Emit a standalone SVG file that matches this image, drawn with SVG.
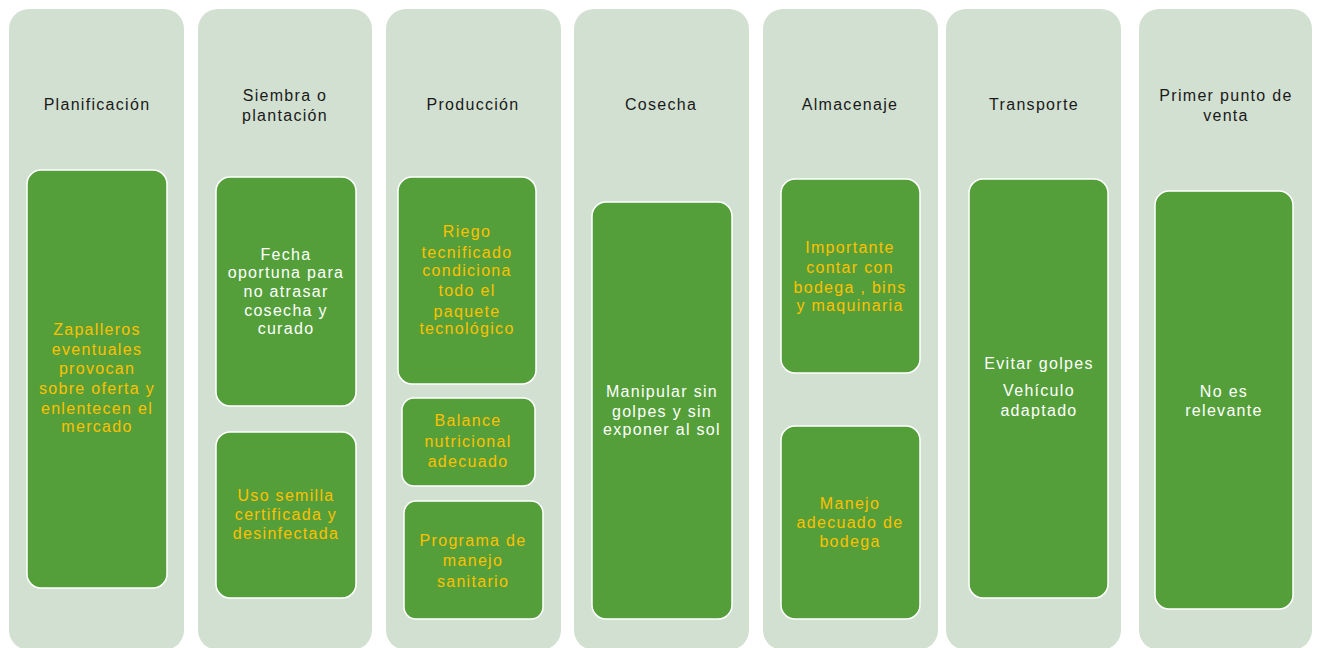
<svg xmlns="http://www.w3.org/2000/svg" width="1317" height="648" viewBox="0 0 1317 648">
<style>
.col{fill:#D2E0D1}
.box{fill:#549F3A;stroke:#FFFFFF;stroke-width:1.5}
text{font-family:"Liberation Sans",Arial,sans-serif;font-size:16px;letter-spacing:1.3px;text-anchor:middle}
.t{fill:#1A1A1A}
.y{fill:#FFC000}
.w{fill:#FFFFFF}
</style>
<rect width="1317" height="648" fill="#FFFFFF"/>
<g id="col-planificacion">
<rect class="col" x="9" y="9" width="175" height="641" rx="20"/>
<text class="t" x="97" y="110">Planificación</text>
<rect class="box" x="27" y="170" width="140" height="418" rx="14"/>
<text class="y" x="97" y="335">Zapalleros</text>
<text class="y" x="97" y="355">eventuales</text>
<text class="y" x="97" y="374">provocan</text>
<text class="y" x="97" y="394">sobre oferta y</text>
<text class="y" x="97" y="414">enlentecen el</text>
<text class="y" x="97" y="432">mercado</text>
</g>
<g id="col-siembra">
<rect class="col" x="198" y="9" width="174" height="641" rx="20"/>
<text class="t" x="285" y="101">Siembra o</text>
<text class="t" x="285" y="121">plantación</text>
<rect class="box" x="216" y="177" width="140" height="229" rx="14"/>
<text class="w" x="286" y="260">Fecha</text>
<text class="w" x="286" y="278">oportuna para</text>
<text class="w" x="286" y="297">no atrasar</text>
<text class="w" x="286" y="316">cosecha y</text>
<text class="w" x="286" y="334">curado</text>
<rect class="box" x="216" y="432" width="140" height="166" rx="14"/>
<text class="y" x="286" y="501">Uso semilla</text>
<text class="y" x="286" y="520">certificada y</text>
<text class="y" x="286" y="539">desinfectada</text>
</g>
<g id="col-produccion">
<rect class="col" x="386" y="9" width="175" height="641" rx="20"/>
<text class="t" x="473" y="110">Producción</text>
<rect class="box" x="398" y="177" width="138" height="207" rx="14"/>
<text class="y" x="467" y="237">Riego</text>
<text class="y" x="467" y="258">tecnificado</text>
<text class="y" x="467" y="276">condiciona</text>
<text class="y" x="467" y="296">todo el</text>
<text class="y" x="467" y="317">paquete</text>
<text class="y" x="467" y="334">tecnológico</text>
<rect class="box" x="402" y="398" width="133" height="88" rx="12"/>
<text class="y" x="468" y="426">Balance</text>
<text class="y" x="468" y="447">nutricional</text>
<text class="y" x="468" y="467">adecuado</text>
<rect class="box" x="404" y="501" width="139" height="118" rx="12"/>
<text class="y" x="473" y="546">Programa de</text>
<text class="y" x="473" y="566">manejo</text>
<text class="y" x="473" y="587">sanitario</text>
</g>
<g id="col-cosecha">
<rect class="col" x="574" y="9" width="175" height="641" rx="20"/>
<text class="t" x="661" y="110">Cosecha</text>
<rect class="box" x="592" y="202" width="140" height="417" rx="14"/>
<text class="w" x="662" y="397">Manipular sin</text>
<text class="w" x="662" y="417">golpes y sin</text>
<text class="w" x="662" y="435">exponer al sol</text>
</g>
<g id="col-almacenaje">
<rect class="col" x="763" y="9" width="175" height="641" rx="20"/>
<text class="t" x="850" y="110">Almacenaje</text>
<rect class="box" x="781" y="179" width="139" height="194" rx="14"/>
<text class="y" x="850" y="253">Importante</text>
<text class="y" x="850" y="273">contar con</text>
<text class="y" x="850" y="293">bodega , bins</text>
<text class="y" x="850" y="311">y maquinaria</text>
<rect class="box" x="781" y="426" width="139" height="193" rx="14"/>
<text class="y" x="850" y="509">Manejo</text>
<text class="y" x="850" y="528">adecuado de</text>
<text class="y" x="850" y="547">bodega</text>
</g>
<g id="col-transporte">
<rect class="col" x="946" y="9" width="175" height="641" rx="20"/>
<text class="t" x="1034" y="110">Transporte</text>
<rect class="box" x="969" y="179" width="139" height="419" rx="14"/>
<text class="w" x="1039" y="369">Evitar golpes</text>
<text class="w" x="1039" y="396">Vehículo</text>
<text class="w" x="1039" y="416">adaptado</text>
</g>
<g id="col-primer-punto">
<rect class="col" x="1139" y="9" width="173" height="641" rx="20"/>
<text class="t" x="1226" y="101">Primer punto de</text>
<text class="t" x="1226" y="121">venta</text>
<rect class="box" x="1155" y="191" width="138" height="418" rx="14"/>
<text class="w" x="1224" y="397">No es</text>
<text class="w" x="1224" y="416">relevante</text>
</g>
<g id="connectors"/>
</svg>
